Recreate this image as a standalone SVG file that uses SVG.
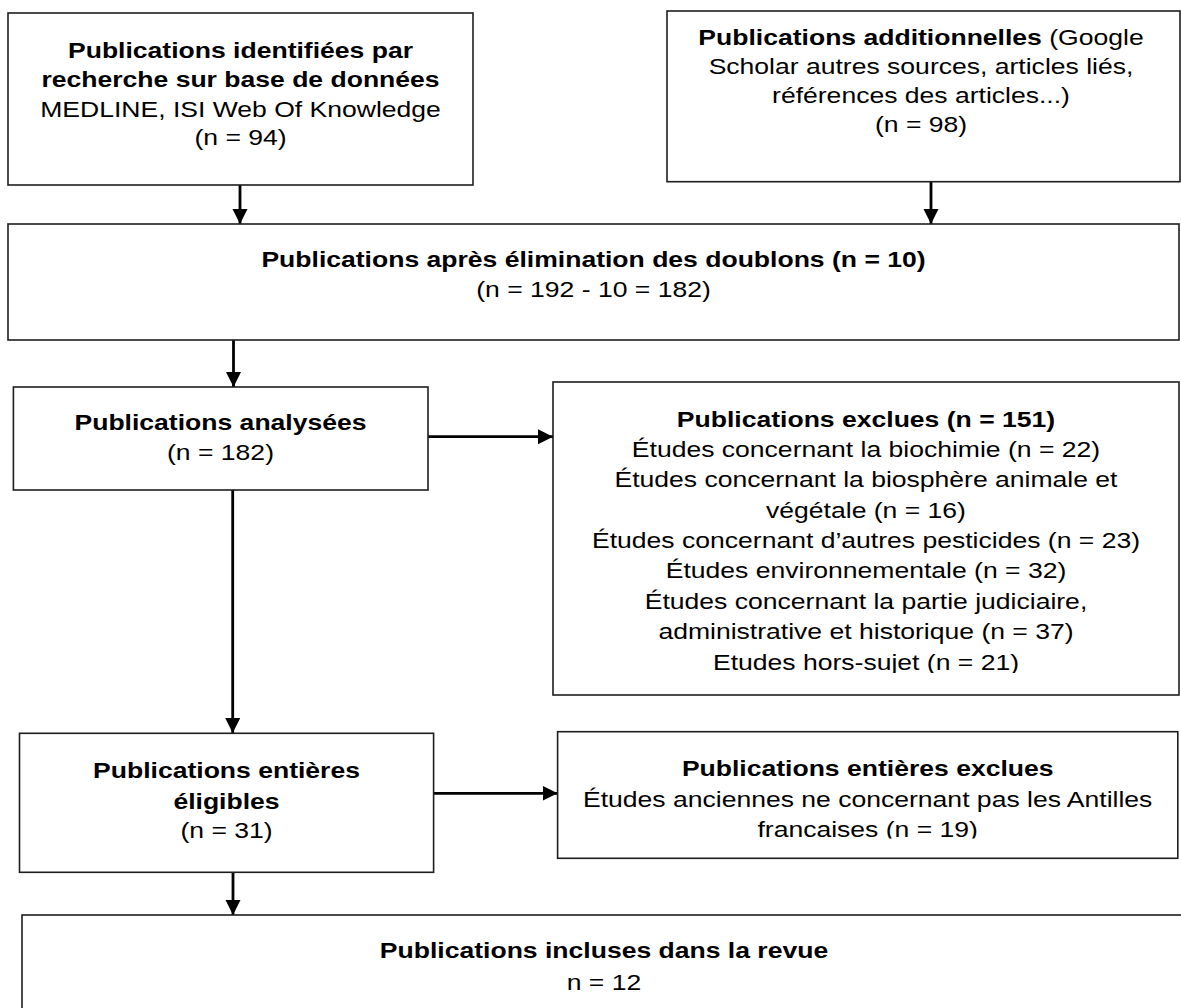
<svg xmlns="http://www.w3.org/2000/svg" width="1181" height="1008" viewBox="0 0 1181 1008">
<style>
  .box { fill: #ffffff; stroke: #1e1e1e; stroke-width: 1.6; }
  .t { font-family: "Liberation Sans", Arial, sans-serif; font-size: 22.5px; fill: #000; text-anchor: middle; }
  .b { font-weight: bold; }
  .conn { stroke: #000; stroke-width: 2.8; fill: none; marker-end: url(#ah); }
</style>
<defs>
  <marker id="ah" markerUnits="userSpaceOnUse" markerWidth="16" markerHeight="16" refX="15" refY="7.5" orient="auto">
    <path d="M0,0 L15,7.5 L0,15 Z" fill="#000"/>
  </marker>
  <clipPath id="clip5"><rect x="553" y="382" width="626" height="291"/></clipPath>
  <clipPath id="clip7"><rect x="557" y="732" width="621" height="106.5"/></clipPath>
</defs>
<rect width="1181" height="1008" fill="#ffffff"/>

<g id="connectors">
  <line class="conn" x1="240" y1="185" x2="240" y2="224"/>
  <line class="conn" x1="931" y1="182" x2="931" y2="224"/>
  <line class="conn" x1="233.5" y1="340" x2="233.5" y2="387"/>
  <line class="conn" x1="428" y1="436.7" x2="553" y2="436.7"/>
  <line class="conn" x1="232.7" y1="490" x2="232.7" y2="733"/>
  <line class="conn" x1="434" y1="793.3" x2="557.6" y2="793.3"/>
  <line class="conn" x1="233" y1="872" x2="233" y2="915"/>
</g>

<g id="node-identified">
  <rect class="box" x="8" y="13" width="465" height="172"/>
  <g transform="translate(240.5 0) scale(1.18 1)">
    <text class="t b" x="0" y="58.3">Publications identifiées par</text>
    <text class="t b" x="0" y="87.5">recherche sur base de données</text>
    <text class="t" x="0" y="116.7">MEDLINE, ISI Web Of Knowledge</text>
    <text class="t" x="0" y="145.5">(n = 94)</text>
  </g>
</g>

<g id="node-additional">
  <rect class="box" x="667" y="11" width="513" height="170.7"/>
  <g transform="translate(921 0) scale(1.18 1)">
    <text class="t" x="0" y="45"><tspan class="b">Publications additionnelles</tspan> (Google</text>
    <text class="t" x="0" y="74">Scholar autres sources, articles liés,</text>
    <text class="t" x="0" y="103">références des articles...)</text>
    <text class="t" x="0" y="132">(n = 98)</text>
  </g>
</g>

<g id="node-dedup">
  <rect class="box" x="8" y="224" width="1171" height="116"/>
  <g transform="translate(593.5 0) scale(1.18 1)">
    <text class="t b" x="0" y="267">Publications après élimination des doublons (n = 10)</text>
    <text class="t" x="0" y="297.5">(n = 192 - 10 = 182)</text>
  </g>
</g>

<g id="node-analysed">
  <rect class="box" x="13.4" y="387" width="414.6" height="103"/>
  <g transform="translate(220.5 0) scale(1.18 1)">
    <text class="t b" x="0" y="430">Publications analysées</text>
    <text class="t" x="0" y="460">(n = 182)</text>
  </g>
</g>

<g id="node-excluded">
  <rect class="box" x="553" y="382" width="626" height="313"/>
  <g clip-path="url(#clip5)">
    <g transform="translate(866 0) scale(1.18 1)">
      <text class="t b" x="0" y="427.3">Publications exclues (n = 151)</text>
      <text class="t" x="0" y="457.3">Études concernant la biochimie (n = 22)</text>
      <text class="t" x="0" y="487.3">Études concernant la biosphère animale et</text>
      <text class="t" x="0" y="517.7">végétale (n = 16)</text>
      <text class="t" x="0" y="548">Études concernant d’autres pesticides (n = 23)</text>
      <text class="t" x="0" y="578.5">Études environnementale (n = 32)</text>
      <text class="t" x="0" y="609">Études concernant la partie judiciaire,</text>
      <text class="t" x="0" y="639.5">administrative et historique (n = 37)</text>
      <text class="t" x="0" y="670">Etudes hors-sujet (n = 21)</text>
    </g>
  </g>
</g>

<g id="node-eligible">
  <rect class="box" x="19.5" y="733.3" width="414.1" height="139"/>
  <g transform="translate(226.5 0) scale(1.18 1)">
    <text class="t b" x="0" y="778.3">Publications entières</text>
    <text class="t b" x="0" y="809">éligibles</text>
    <text class="t" x="0" y="838.5">(n = 31)</text>
  </g>
</g>

<g id="node-fulltext-excluded">
  <rect class="box" x="557.6" y="731.7" width="620.2" height="126.6"/>
  <g clip-path="url(#clip7)">
    <g transform="translate(867.7 0) scale(1.18 1)">
      <text class="t b" x="0" y="776">Publications entières exclues</text>
      <text class="t" x="0" y="806.7">Études anciennes ne concernant pas les Antilles</text>
      <text class="t" x="0" y="836.7">francaises (n = 19)</text>
    </g>
  </g>
</g>

<g id="node-included">
  <rect class="box" x="22" y="915" width="1170" height="110"/>
  <g transform="translate(604 0) scale(1.18 1)">
    <text class="t b" x="0" y="958.3">Publications incluses dans la revue</text>
    <text class="t" x="0" y="990">n = 12</text>
  </g>
</g>
</svg>
